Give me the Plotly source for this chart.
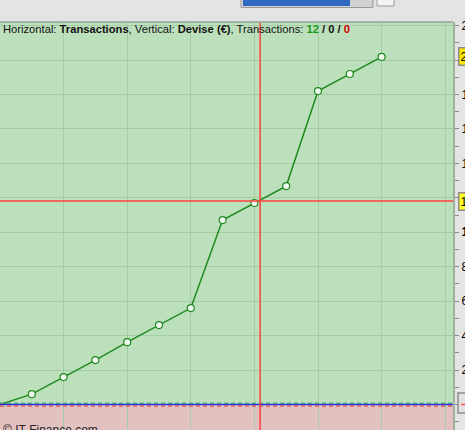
import plotly.graph_objects as go

# ---- data ----
transactions = [0, 1, 2, 3, 4, 5, 6, 7, 8, 9, 10, 11, 12]
equity = [0, 600, 1590, 2580, 3620, 4610, 5600, 10710, 11700, 12680, 18200, 19190, 20180]
tick_vals = [2000, 4000, 6000, 8000, 10000, 12000, 14000, 16000, 18000, 20000, 22000]
tick_text = ["2 000", "4 000", "6 000", "8 000", "<b>10 000</b>", "", "14 000", "16 000", "18 000", "", "22 000"]
cursor_x = 8.18
cursor_y = 11810
last_value = equity[-1]

W, H = 465, 430
L, R, T, B = 0, 453, 22, 430
PH = B - T

def PX(x):
    return (x - L) / (R - L)

def PY(y):
    return (B - y) / PH

YMIN, YMAX = -1481, 22209
UPX = (YMAX - YMIN) / PH

fig = go.Figure()
fig.add_trace(go.Scatter(x=transactions, y=equity, mode="lines",
                         line=dict(color="#1f8a1f", width=1.5), hoverinfo="skip"))
fig.add_trace(go.Scatter(x=transactions[1:], y=equity[1:], mode="markers",
                         marker=dict(size=7, color="#f2f7f2", line=dict(color="#1f8a1f", width=1.2)),
                         hoverinfo="skip"))

shapes = []
# negative region
shapes.append(dict(type="rect", xref="paper", x0=0, x1=1, yref="y", y0=YMIN - 5000, y1=-1.5 * UPX,
                   fillcolor="#e2c1c0", line=dict(width=0), layer="below"))
# zero line triple
shapes.append(dict(type="line", xref="paper", x0=0, x1=1, yref="y", y0=1.3 * UPX, y1=1.3 * UPX,
                   line=dict(color="#4fae6a", width=1.2, dash="4px,3px")))
shapes.append(dict(type="line", xref="paper", x0=0, x1=1, yref="y", y0=0, y1=0,
                   line=dict(color="#2a2ae0", width=1.5)))
shapes.append(dict(type="line", xref="paper", x0=0, x1=1, yref="y", y0=-1.6 * UPX, y1=-1.6 * UPX,
                   line=dict(color="#f04848", width=1.2, dash="4px,3px")))
# crosshair
shapes.append(dict(type="line", xref="x", x0=cursor_x, x1=cursor_x, yref="paper", y0=0, y1=1,
                   line=dict(color="#ff4040", width=1.5)))
shapes.append(dict(type="line", xref="paper", x0=0, x1=1, yref="y", y0=cursor_y, y1=cursor_y,
                   line=dict(color="#ff4040", width=1.5)))
# top border of plot area
shapes.append(dict(type="line", xref="paper", x0=0, x1=1, yref="paper", y0=1, y1=1,
                   line=dict(color="#a2b4a2", width=2)))
# progress bar at the top
shapes.append(dict(type="rect", xref="paper", yref="paper", x0=PX(241), x1=PX(373), y0=PY(7.5), y1=PY(-3),
                   fillcolor="#d2d2d2", line=dict(color="#9a9a9a", width=1)))
shapes.append(dict(type="rect", xref="paper", yref="paper", x0=PX(243), x1=PX(350), y0=PY(6), y1=PY(-3),
                   fillcolor="#2f69c4", line=dict(width=0)))
shapes.append(dict(type="rect", xref="paper", yref="paper", x0=PX(377), x1=PX(394), y0=PY(6), y1=PY(-3),
                   fillcolor="#f4f4f4", line=dict(color="#9a9a9a", width=1)))
# zero marker box on the right axis
shapes.append(dict(type="rect", xref="paper", yref="paper", x0=PX(458), x1=PX(472), y0=PY(413), y1=PY(393),
                   fillcolor="#e2e2e2", line=dict(color="#8c8c8c", width=1.5)))
shapes.append(dict(type="line", xref="paper", yref="paper", x0=PX(461), x1=PX(466), y0=PY(404.5), y1=PY(404.5),
                   line=dict(color="#ff5050", width=1.5)))

fnt = "Liberation Sans, Arial, sans-serif"
annotations = [
    dict(xref="paper", yref="paper", x=PX(1), y=PY(28.5), xanchor="left", yanchor="middle", showarrow=False,
         text=("Horizontal: <b>Transactions</b>, Vertical: <b>Devise (€)</b>, Transactions: "
               "<b><span style='color:#1a9a1a'>12</span> / 0 / <span style='color:#cc0000'>0</span></b>"),
         font=dict(family=fnt, size=11.2, color="#111111")),
    dict(xref="paper", yref="paper", x=PX(1), y=PY(429.5), xanchor="left", yanchor="middle", showarrow=False,
         text="© IT-Finance.com", font=dict(family=fnt, size=12, color="#222222")),
    dict(xref="paper", yref="y", x=1, xshift=5, y=last_value, xanchor="left", yanchor="middle", showarrow=False,
         text=f"{last_value:,}".replace(",", " "), bgcolor="#ffe800", bordercolor="#8c8c8c", borderwidth=1.5,
         borderpad=1, font=dict(family=fnt, size=12, color="#000000")),
    dict(xref="paper", yref="y", x=1, xshift=5, y=cursor_y, xanchor="left", yanchor="middle", showarrow=False,
         text=f"{cursor_y:,}".replace(",", " "), bgcolor="#ffff20", bordercolor="#8c8c8c", borderwidth=1.5,
         borderpad=1, font=dict(family=fnt, size=12, color="#000000")),
]

fig.update_layout(
    template="none",
    width=W, height=H,
    margin=dict(l=L, r=W - R, t=T, b=H - B, pad=0, autoexpand=False),
    paper_bgcolor="#e4e4e4", plot_bgcolor="#bde0bc",
    showlegend=False,
    shapes=shapes, annotations=annotations,
    font=dict(family=fnt, size=12, color="#000000"),
    xaxis=dict(range=[0, 14.245], dtick=2, tick0=0, showgrid=True, gridcolor="#a6cca5", gridwidth=1,
               showticklabels=False, ticks="", zeroline=False, showline=False, fixedrange=True,
               automargin=False),
    yaxis=dict(range=[YMIN, YMAX], side="right", tickvals=tick_vals, ticktext=tick_text,
               showgrid=True, gridcolor="#a6cca5", gridwidth=1, zeroline=False,
               showline=True, linecolor="#9fb29f", linewidth=2,
               ticks="outside", ticklen=4, tickcolor="#8a8a8a", tickwidth=1,
               minor=dict(ticks="outside", ticklen=4, tickcolor="#8a8a8a", dtick=1000, tick0=0, showgrid=False),
               tickfont=dict(family=fnt, size=12, color="#000000"), fixedrange=True,
               automargin=False),
)

fig.write_html("out.html", config={"displayModeBar": False},
               post_script="document.body.style.margin='0';document.body.style.overflow='hidden';")
